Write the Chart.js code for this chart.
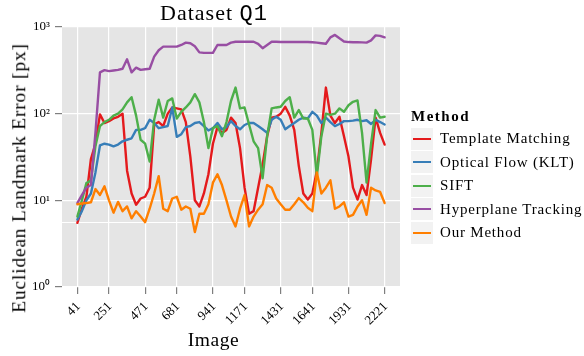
<!DOCTYPE html>
<html><head><meta charset="utf-8">
<script src="https://cdn.jsdelivr.net/npm/chart.js@4.4.1/dist/chart.umd.min.js"></script>
<style>
html,body{margin:0;padding:0;background:#fff;}
#wrap{position:relative;width:584px;height:356px;overflow:hidden;font-family:"Liberation Serif",serif;color:#000;}
canvas{position:absolute;left:0;top:0;}
.t{position:absolute;white-space:nowrap;line-height:1;}
</style></head><body>
<div id="wrap">
<canvas id="c" width="584" height="356"></canvas>
<div id="title" class="t" style="left:214px;top:1.6px;font-size:22px;letter-spacing:1px;transform:translateX(-50%);">Dataset <span style="font-family:'Liberation Mono',monospace;">Q1</span></div>
<div id="xtitle" class="t" style="left:213.5px;top:330.4px;font-size:19.5px;letter-spacing:0.6px;transform:translateX(-50%);">Image</div>
<div id="ytitle" class="t" style="left:19px;top:178px;font-size:19.5px;letter-spacing:0.8px;transform:translate(-50%,-50%) rotate(-90deg);">Euclidean Landmark Error [px]</div>
<div id="legend" class="t" style="left:411px;top:0;"></div>
</div>
<script>
// x axis: image sequence positions and labelled ticks
const tickPositions = [0, 7, 15, 22, 30, 37, 45, 52, 60, 68];
const tickLabels = ['41', '251', '471', '681', '941', '1171', '1431', '1641', '1931', '2221'];
// y axis (log)
const yMajor = [1, 10, 100, 1000];
const yMajorLabels = ['10\u2070', '10\u00B9', '10\u00B2', '10\u00B3'];
const yMinor = [5.5];

const seriesNames = ['Template Matching', 'Optical Flow (KLT)', 'SIFT', 'Hyperplane Tracking', 'Our Method'];
const seriesColors = ['#E41A1C', '#377EB8', '#4DAF4A', '#984EA3', '#FF7F00'];
const legendTitle = 'Method';

const templateMatching = [5.5, 8, 11, 30, 45, 98, 78, 82, 88, 92, 100, 22, 12, 8.9, 10.5, 11, 14, 75, 80, 72, 100, 118, 115, 112, 80, 32, 10, 8.5, 12, 20, 45, 70, 60, 65, 90, 78, 40, 14, 7, 7.5, 14, 26, 55, 90, 92, 100, 120, 95, 65, 25, 12, 10.2, 12, 22, 60, 200, 95, 78, 92, 55, 32, 14, 10.2, 15, 11.5, 30, 90, 60, 44];
const opticalFlow = [6, 7.5, 10, 12, 21, 43, 45, 44, 42, 44, 48, 50, 52, 65, 65, 68, 85, 78, 68, 70, 72, 118, 54, 58, 70, 72, 78, 80, 72, 64, 68, 78, 66, 70, 82, 72, 66, 74, 78, 78, 72, 66, 60, 85, 92, 85, 66, 72, 78, 85, 90, 88, 105, 95, 78, 90, 80, 72, 76, 82, 82, 83, 85, 82, 84, 76, 85, 80, 75];
const sift = [6.5, 10, 15.8, 17, 42, 72, 80, 85, 95, 100, 112, 135, 155, 95, 50, 45, 28, 85, 145, 90, 140, 150, 88, 105, 118, 135, 168, 135, 80, 40, 68, 72, 55, 80, 140, 200, 115, 118, 75, 48, 40, 18, 55, 115, 118, 120, 140, 155, 90, 110, 88, 88, 65, 19, 55, 100, 97, 100, 115, 105, 125, 137, 142, 60, 16, 45, 110, 90, 92];
const hyperplane = [9.3, 11.5, 14, 15, 60, 300, 318, 310, 315, 320, 330, 424, 300, 340, 320, 325, 330, 455, 540, 593, 593, 593, 593, 620, 660, 650, 600, 510, 503, 503, 503, 620, 620, 620, 660, 676, 676, 676, 676, 676, 640, 569, 620, 676, 676, 672, 672, 672, 670, 672, 670, 672, 668, 660, 650, 640, 760, 810, 740, 680, 670, 668, 668, 665, 660, 700, 800, 790, 760];
const ourMethod = [9, 9.2, 9.3, 9.5, 13.5, 11.5, 14.5, 10, 7.2, 9.6, 7.5, 8.5, 6.2, 7.5, 6.5, 5.6, 8, 12, 19, 8, 7.5, 10.5, 11, 7.8, 8.5, 8, 4.3, 7, 7, 9, 16, 20, 15, 10, 6.5, 5, 8, 11.5, 5, 6.5, 7.8, 9, 15, 14, 10.5, 9, 7.8, 7.8, 9, 10.6, 9.5, 8.2, 7.5, 21, 12, 14, 17, 8, 8.5, 9.5, 6.5, 6.8, 8.5, 10, 6.8, 14, 13, 12.5, 9.3];

const allSeries = [templateMatching, opticalFlow, sift, hyperplane, ourMethod];
const span = templateMatching.length - 1;

const datasets = allSeries.map((vals, k) => ({
  label: seriesNames[k],
  data: vals.map((v, i) => ({x: i, y: v})),
  borderColor: seriesColors[k],
  backgroundColor: seriesColors[k],
  borderWidth: 2.4,
  pointRadius: 0,
  tension: 0,
  fill: false,
  borderJoinStyle: 'round',
  borderCapStyle: 'round',
  order: allSeries.length - 1 - k
}));

const panelBg = {
  id: 'panelBg',
  beforeDraw(chart) {
    const {ctx, chartArea: a} = chart;
    ctx.save();
    ctx.fillStyle = '#E5E5E5';
    ctx.fillRect(a.left, a.top, a.right - a.left, a.bottom - a.top);
    ctx.restore();
  }
};

const isMinor = ctx => ctx.tick && yMinor.includes(ctx.tick.value);

new Chart(document.getElementById('c').getContext('2d'), {
  type: 'line',
  data: {datasets},
  options: {
    responsive: false,
    animation: false,
    devicePixelRatio: 1,
    layout: {padding: {left: 0, top: 27, right: 184, bottom: 0}},
    plugins: {legend: {display: false}, tooltip: {enabled: false}, title: {display: false}},
    scales: {
      x: {
        type: 'linear',
        min: -0.05 * span,
        max: span * 1.05,
        afterBuildTicks: s => { s.ticks = tickPositions.map(v => ({value: v})); },
        afterFit: s => { s.height = 69; },
        ticks: {
          autoSkip: false, maxRotation: 45, minRotation: 45, padding: 5, labelOffset: 1,
          font: {family: 'Liberation Serif', size: 13}, color: '#000',
          callback: v => { const k = tickPositions.indexOf(v); return k >= 0 ? tickLabels[k] : ''; }
        },
        grid: {color: '#FFFFFF', lineWidth: 1.2, tickColor: '#7F7F7F', tickLength: 7, tickWidth: 1.2, drawTicks: true},
        border: {display: false}
      },
      y: {
        type: 'logarithmic',
        min: 1,
        max: 1000,
        afterBuildTicks: s => {
          s.ticks = [...yMajor, ...yMinor].sort((a, b) => a - b).map(v => ({value: v, major: yMajor.includes(v)}));
        },
        afterFit: s => { s.width = 62; },
        ticks: {
          autoSkip: false, padding: 5,
          font: {family: 'Liberation Serif', size: 13}, color: '#000',
          callback: v => { const k = yMajor.indexOf(v); return k >= 0 ? yMajorLabels[k] : ''; }
        },
        grid: {
          color: '#FFFFFF',
          lineWidth: ctx => isMinor(ctx) ? 1.0 : 1.2,
          tickColor: ctx => isMinor(ctx) ? 'rgba(0,0,0,0)' : '#7F7F7F',
          tickLength: 7, tickWidth: 1.2
        },
        border: {display: false}
      }
    }
  },
  plugins: [panelBg]
});

// legend (HTML, built from the arrays above)
const lg = document.getElementById('legend');
const lt = document.createElement('div');
lt.className = 't';
lt.style.cssText = 'left:0;top:109px;font-size:15px;font-weight:bold;letter-spacing:1.5px;';
lt.textContent = legendTitle;
lg.appendChild(lt);
const rowTop = 127.7, rowH = 23.5;
seriesNames.forEach((name, k) => {
  const top = rowTop + k * rowH;
  const box = document.createElement('div');
  box.style.cssText = `position:absolute;left:0;top:${top}px;width:22px;height:22px;background:#F2F2F2;`;
  const ln = document.createElement('div');
  ln.style.cssText = `position:absolute;left:2px;top:9.9px;width:18px;height:2.3px;background:${seriesColors[k]};`;
  box.appendChild(ln);
  lg.appendChild(box);
  const lab = document.createElement('div');
  lab.className = 't';
  lab.style.cssText = `left:29px;top:${top + 11 - 7.6}px;font-size:15px;letter-spacing:0.8px;`;
  lab.textContent = name;
  lg.appendChild(lab);
});
</script>
</body></html>
